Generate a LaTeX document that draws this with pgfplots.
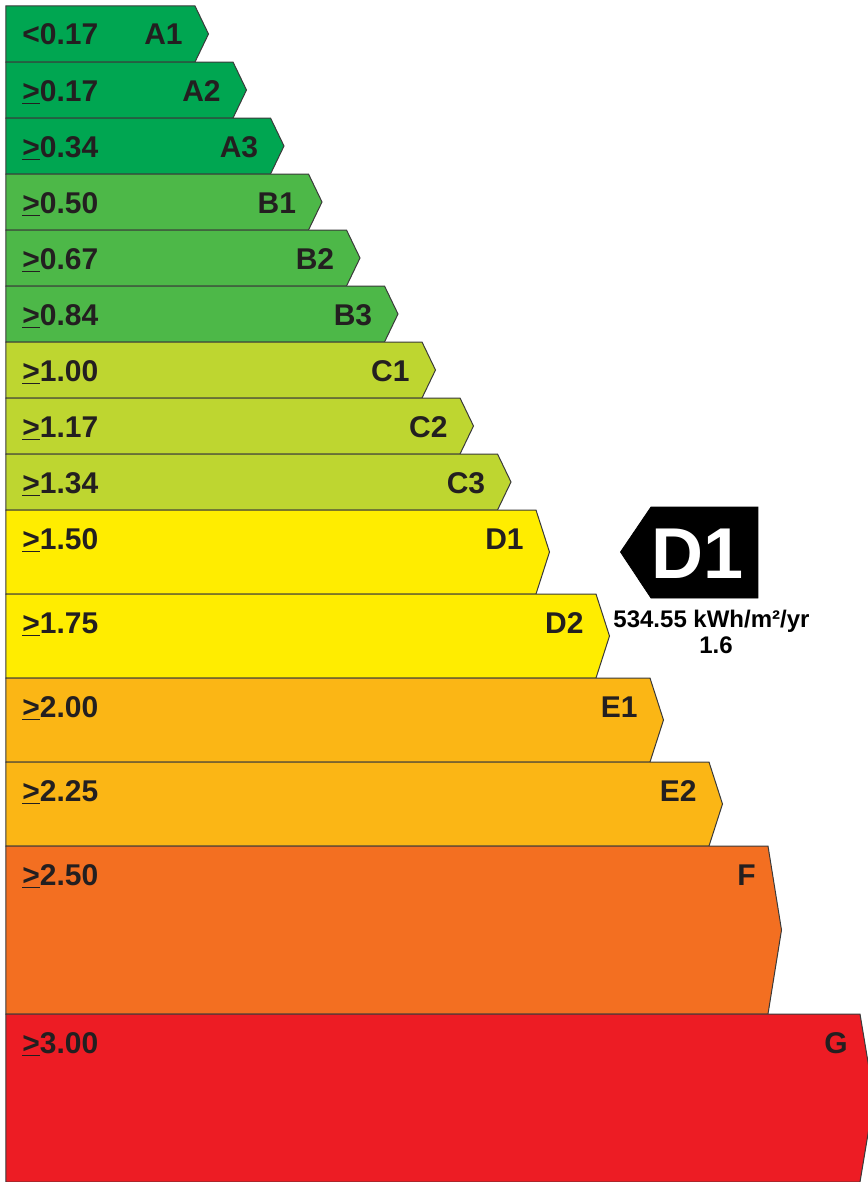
\documentclass[border=0pt]{standalone}
\usepackage{pgfplots}
\pgfplotsset{compat=1.18}
\usepackage{fontspec}
\setmainfont{Liberation Sans}
\newfontfamily\arialfont{Liberation Sans}
\definecolor{cA}{HTML}{00A651}
\definecolor{cB}{HTML}{4DB848}
\definecolor{cC}{HTML}{BED630}
\definecolor{cD}{HTML}{FFED00}
\definecolor{cE}{HTML}{FBB615}
\definecolor{cF}{HTML}{F36F21}
\definecolor{cG}{HTML}{ED1C24}
\definecolor{bord}{HTML}{3A3A3A}
\definecolor{tc}{HTML}{231F20}
% #1 colour, #2 top, #3 mid, #4 bottom, #5 body end, #6 tip, #7 left label, #8 right label
\newcommand{\band}[8]{%
  \addplot[fill=#1, draw=bord, line width=0.5pt] coordinates {(6,#2) (#5,#2) (#6,#3) (#5,#4) (6,#4)} -- cycle;
  \node[anchor=base west, inner sep=0pt, yshift=-19.5pt, text=tc, font=\bfseries\fontsize{15}{15}\selectfont] at (axis cs:22,#2) {#7};
  \node[anchor=base east, inner sep=0pt, yshift=-19.5pt, xshift=-6pt, text=tc, font=\bfseries\fontsize{15}{15}\selectfont] at (axis cs:#5,#2) {#8};
}
\newcommand{\gte}{\underline{>}}
\begin{document}
\begin{tikzpicture}
\begin{axis}[
  scale only axis, width=434pt, height=591pt,
  xmin=0, xmax=868, ymin=-0.017857, ymax=3.5,
  y dir=reverse, hide axis]
\band{cA}{0}{0.08333}{0.16667}{195}{208.5}{<0.17}{A1}
\band{cA}{0.16667}{0.25}{0.33333}{233}{246.5}{\gte0.17}{A2}
\band{cA}{0.33333}{0.41667}{0.5}{270.5}{284}{\gte0.34}{A3}
\band{cB}{0.5}{0.58333}{0.66667}{308.5}{322}{\gte0.50}{B1}
\band{cB}{0.66667}{0.75}{0.83333}{346.5}{360}{\gte0.67}{B2}
\band{cB}{0.83333}{0.91667}{1.0}{384.5}{398}{\gte0.84}{B3}
\band{cC}{1.0}{1.08333}{1.16667}{422}{435.5}{\gte1.00}{C1}
\band{cC}{1.16667}{1.25}{1.33333}{460}{473.5}{\gte1.17}{C2}
\band{cC}{1.33333}{1.41667}{1.5}{497.5}{511}{\gte1.34}{C3}
\band{cD}{1.5}{1.625}{1.75}{536}{549.5}{\gte1.50}{D1}
\band{cD}{1.75}{1.875}{2.0}{596}{609.5}{\gte1.75}{D2}
\band{cE}{2.0}{2.125}{2.25}{650}{663.5}{\gte2.00}{E1}
\band{cE}{2.25}{2.375}{2.5}{709}{722.5}{\gte2.25}{E2}
\band{cF}{2.5}{2.75}{3.0}{768}{781.5}{\gte2.50}{F}
\band{cG}{3.0}{3.25}{3.5}{860}{874}{\gte3.00}{G}
% rating indicator
\addplot[fill=black, draw=black] coordinates {(620.5,1.625) (651,1.4911) (758,1.4911) (758,1.7619) (651,1.7619)} -- cycle;
\node[anchor=base, text=white, font=\arialfont\bfseries\fontsize{36}{36}\selectfont] at (axis cs:697.5,1.7024) {D1};
\node[anchor=base, text=black, font=\arialfont\bfseries\fontsize{12}{12}\selectfont] at (axis cs:711.5,1.8482) {534.55 kWh/m²/yr};
\node[anchor=base, text=black, font=\arialfont\bfseries\fontsize{12}{12}\selectfont] at (axis cs:716,1.9256) {1.6};
\end{axis}
\pgfresetboundingbox
\useasboundingbox (current axis.south west) rectangle (current axis.north east);
\end{tikzpicture}
\end{document}
